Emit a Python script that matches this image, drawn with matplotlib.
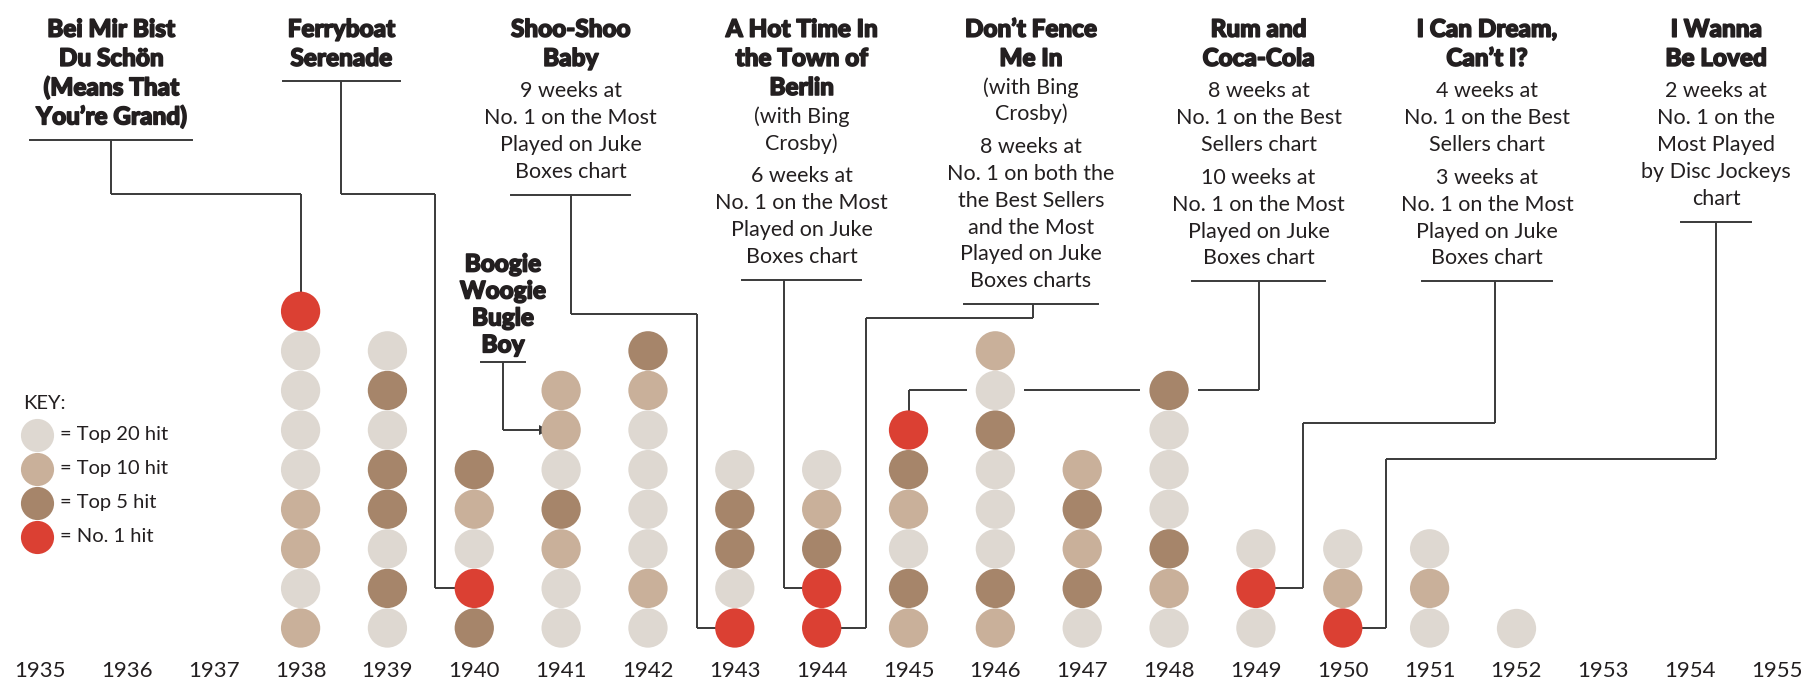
import matplotlib.pyplot as plt
import matplotlib.patheffects as pe

# peak chart tier of each hit, listed bottom to top for every year
years = list(range(1938, 1953))
peaks = [
    [10, 20, 10, 10, 20, 20, 20, 20, 1],   # 1938
    [20, 5, 20, 5, 5, 20, 5, 20],          # 1939
    [5, 1, 20, 10, 5],                     # 1940
    [20, 20, 10, 5, 20, 10, 10],           # 1941
    [20, 10, 20, 20, 20, 20, 10, 5],       # 1942
    [1, 20, 5, 5, 20],                     # 1943
    [1, 1, 5, 10, 20],                     # 1944
    [10, 5, 20, 10, 5, 1],                 # 1945
    [10, 5, 20, 20, 20, 5, 20, 10],        # 1946
    [20, 5, 10, 5, 10],                    # 1947
    [20, 10, 5, 20, 20, 20, 5],            # 1948
    [20, 1, 20],                           # 1949
    [1, 10, 20],                           # 1950
    [20, 10, 20],                          # 1951
    [20],                                  # 1952
]
axis_years = list(range(1935, 1956))

tiers = [20, 10, 5, 1]
tier_labels = ['= Top 20 hit', '= Top 10 hit', '= Top 5 hit', '= No. 1 hit']
tier_colors = {20: '#ded8d1', 10: '#c9b09a', 5: '#a6856a', 1: '#db4033'}

# songs called out, with the hit (year, position in stack) they point to
song_titles = [
    ['Bei Mir Bist', 'Du Schön', '(Means That', 'You’re Grand)'],
    ['Ferryboat', 'Serenade'],
    ['Boogie', 'Woogie', 'Bugle', 'Boy'],
    ['Shoo-Shoo', 'Baby'],
    ['A Hot Time In', 'the Town of', 'Berlin'],
    ['Don’t Fence', 'Me In'],
    ['Rum and', 'Coca-Cola'],
    ['I Can Dream,', 'Can’t I?'],
    ['I Wanna', 'Be Loved'],
]
song_notes = [
    [],
    [],
    [],
    [['9 weeks at', 'No. 1 on the Most', 'Played on Juke', 'Boxes chart']],
    [['(with Bing', 'Crosby)'],
     ['6 weeks at', 'No. 1 on the Most', 'Played on Juke', 'Boxes chart']],
    [['(with Bing', 'Crosby)'],
     ['8 weeks at', 'No. 1 on both the', 'the Best Sellers', 'and the Most',
      'Played on Juke', 'Boxes charts']],
    [['8 weeks at', 'No. 1 on the Best', 'Sellers chart'],
     ['10 weeks at', 'No. 1 on the Most', 'Played on Juke', 'Boxes chart']],
    [['4 weeks at', 'No. 1 on the Best', 'Sellers chart'],
     ['3 weeks at', 'No. 1 on the Most', 'Played on Juke', 'Boxes chart']],
    [['2 weeks at', 'No. 1 on the', 'Most Played', 'by Disc Jockeys', 'chart']],
]
song_targets = [(1938, 9), (1940, 2), (1941, 6), (1943, 1), (1944, 2),
                (1944, 1), (1945, 6), (1949, 2), (1950, 1)]

# layout of the call-outs: text centre, first line, underline width,
# x of the leader line and its bends
layout = [
    dict(x=1935.82, top=16.12, step=0.735, uw=1.86, lx=1935.82, bends=[(None, 11.96), (1938, None)]),
    dict(x=1938.47, top=16.12, step=0.735, uw=1.34, lx=1938.47, bends=[(None, 11.96), (1939.55, None), (None, 2)]),
    dict(x=1940.33, top=10.19, step=0.68, uw=0.50, lx=1940.33, bends=[(None, 6)], arrow=True, ul=0.44),
    dict(x=1941.11, top=16.12, step=0.735, uw=1.37, lx=1941.11, bends=[(None, 8.94), (1942.56, None), (None, 1)]),
    dict(x=1943.77, top=16.12, step=0.735, uw=1.37, lx=1943.57, bends=[(None, 2)]),
    dict(x=1946.41, top=16.12, step=0.735, uw=1.55, lx=1946.43, bends=[(None, 8.82), (1944.51, None), (None, 1)]),
    dict(x=1949.03, top=16.12, step=0.735, uw=1.53, lx=1949.03, bends=[(None, 7), (1945, None)]),
    dict(x=1951.66, top=16.12, step=0.735, uw=1.49, lx=1951.75, bends=[(None, 6.17), (1949.54, None), (None, 2)]),
    dict(x=1954.30, top=16.12, step=0.735, uw=0.80, lx=1954.30, bends=[(None, 5.27), (1950.50, None), (None, 1)]),
]

TEXT = '#231f20'
LINE = '#3a3a3a'
TITLE_FONT = ['Lato', 'DejaVu Sans']
BODY_FONT = ['Lato', 'DejaVu Sans']
DOT_S = 800
GAP = 0.33
BODY_STEP = 0.678


def has_dot(year, row):
    if year not in years:
        return False
    return 1 <= row <= len(peaks[years.index(year)])


def draw_leader(ax, pts, target_year):
    for (x0, y0), (x1, y1) in zip(pts[:-1], pts[1:]):
        if y0 == y1 and float(y0).is_integer():
            lo, hi = sorted([x0, x1])
            cuts = [yr for yr in years if lo < yr < hi and yr != target_year and has_dot(yr, int(y0))]
            xs = [lo]
            for yr in cuts:
                xs += [yr - GAP, yr + GAP]
            xs.append(hi)
            for a, b in zip(xs[::2], xs[1::2]):
                ax.plot([a, b], [y0, y0], color=LINE, lw=1.4, zorder=1, solid_capstyle='butt')
        else:
            ax.plot([x0, x1], [y0, y1], color=LINE, lw=1.4, zorder=1, solid_capstyle='butt')


fig = plt.figure(figsize=(18.06, 6.85), dpi=100)
ax = fig.add_axes([0, 0, 1, 1])
ax.set_xlim(1934.539, 1955.334)
ax.set_ylim(-0.439, 16.86)
ax.axis('off')

# stacks of hits
for yr, col in zip(years, peaks):
    rows = list(range(1, len(col) + 1))
    ax.scatter([yr] * len(col), rows, s=DOT_S, c=[tier_colors[p] for p in col],
               linewidths=0, zorder=3)

for yr in axis_years:
    ax.text(yr, -0.08, str(yr), ha='center', va='center', fontsize=16,
            color=TEXT, family=BODY_FONT)

# key
ax.text(1934.80, 6.67, 'KEY:', ha='left', va='center', fontsize=14.5, color=TEXT, family=BODY_FONT)
for i, (t, lab) in enumerate(zip(tiers, tier_labels)):
    ky = 5.88 - i * 0.86
    ax.scatter([1934.97], [ky], s=570, c=tier_colors[t], linewidths=0, zorder=3)
    ax.text(1935.23, ky, lab, ha='left', va='center', fontsize=14.5, color=TEXT, family=BODY_FONT)

heavy = [pe.withStroke(linewidth=1.1, foreground=TEXT)]

# call-outs
for title, notes, target, lay in zip(song_titles, song_notes, song_targets, layout):
    y = lay['top']
    for i, line in enumerate(title):
        if i:
            y -= lay['step']
        ax.text(lay['x'], y, line, ha='center', va='center', fontsize=17.5,
                fontweight='black', color=TEXT, family=TITLE_FONT, path_effects=heavy)
    for group in notes:
        y -= 0.73 if group[0].startswith('(') else 0.83
        for i, line in enumerate(group):
            if i:
                y -= BODY_STEP
            ax.text(lay['x'], y, line, ha='center', va='center', fontsize=15.5,
                    color=TEXT, family=BODY_FONT)
    uy = y - lay.get('ul', 0.58)
    ax.plot([lay['x'] - lay['uw'] / 2, lay['x'] + lay['uw'] / 2], [uy, uy],
            color=LINE, lw=1.4, zorder=1)

    pts = [(lay['lx'], uy)]
    for bx, by in lay['bends']:
        px, py = pts[-1]
        pts.append((px if bx is None else bx, py if by is None else by))
    if lay.get('arrow'):
        tip = (target[0] - 0.2, pts[-1][1])
        pts.append(tip)
        draw_leader(ax, pts, target[0])
        ax.plot([tip[0]], [tip[1]], marker='>', ms=7, color=LINE, mew=0, zorder=2)
    else:
        px, py = pts[-1]
        if px != target[0] and py != target[1]:
            pts.append((target[0], py) if by is None else (px, target[1]))
        pts.append(target)
        draw_leader(ax, pts, target[0])

fig.savefig('out.png', dpi=100, facecolor='white')
